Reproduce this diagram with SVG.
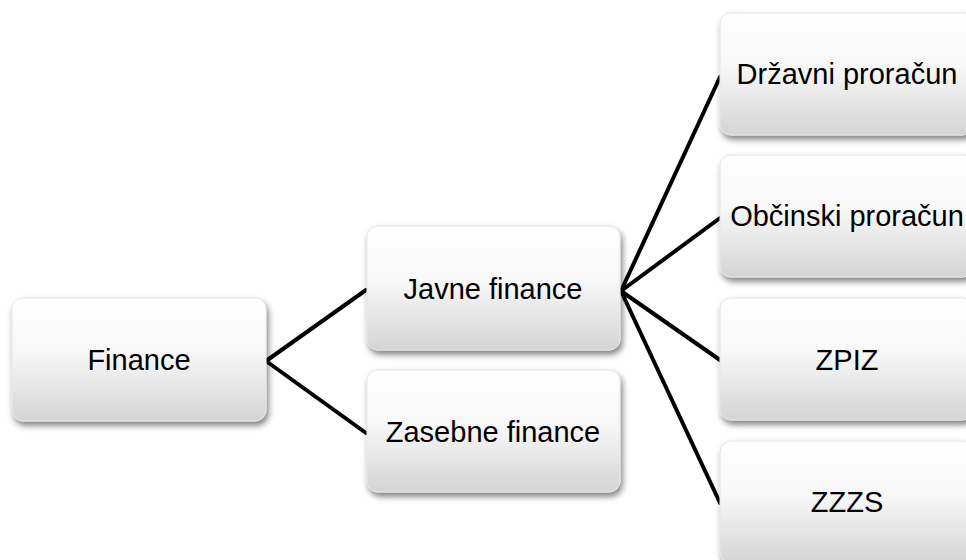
<svg xmlns="http://www.w3.org/2000/svg" width="966" height="560" viewBox="0 0 966 560">
<defs>
<linearGradient id="g" x1="0" y1="0" x2="0" y2="1">
<stop offset="0" stop-color="#ffffff"/>
<stop offset="0.45" stop-color="#f7f7f7"/>
<stop offset="1" stop-color="#d4d4d4"/>
</linearGradient>
<filter id="sh" x="-10%" y="-10%" width="125%" height="130%">
<feDropShadow dx="2" dy="4" stdDeviation="3" flood-color="#000" flood-opacity="0.5"/>
</filter>
</defs>
<style>
.box{fill:url(#g);stroke:#e6e6e6;stroke-width:1;filter:url(#sh)}
.t{font-family:"Liberation Sans",Arial,sans-serif;font-size:29px;fill:#000;text-anchor:middle}
.c{stroke:#000;stroke-width:4;fill:none;stroke-linecap:round;stroke-linejoin:round}
</style>
<rect width="966" height="560" fill="#fff"/>
<g id="connectors">
<path class="c" d="M266,361 L366,290 M266,361 L366,433"/>
<path class="c" d="M621,291 L720,77 M621,291 L720,218 M621,291 L720,360 M621,291 L720,503"/>
</g>
<g id="finance"><rect class="box" x="12" y="298" width="254" height="123" rx="11"/><text class="t" x="139" y="370">Finance</text></g>
<g id="javne"><rect class="box" x="367" y="226" width="253" height="124" rx="11"/><text class="t" x="493" y="299">Javne finance</text></g>
<g id="zasebne"><rect class="box" x="367" y="370" width="253" height="122" rx="11"/><text class="t" x="493" y="442">Zasebne finance</text></g>
<g id="drzavni"><rect class="box" x="720" y="13" width="253" height="122" rx="11"/><text class="t" x="847" y="84">Državni proračun</text></g>
<g id="obcinski"><rect class="box" x="720" y="155" width="253" height="122" rx="11"/><text class="t" x="847" y="226">Občinski proračun</text></g>
<g id="zpiz"><rect class="box" x="720" y="298" width="253" height="122" rx="11"/><text class="t" x="847" y="370">ZPIZ</text></g>
<g id="zzzs"><rect class="box" x="720" y="441" width="253" height="122" rx="11"/><text class="t" x="847" y="512">ZZZS</text></g>
</svg>
